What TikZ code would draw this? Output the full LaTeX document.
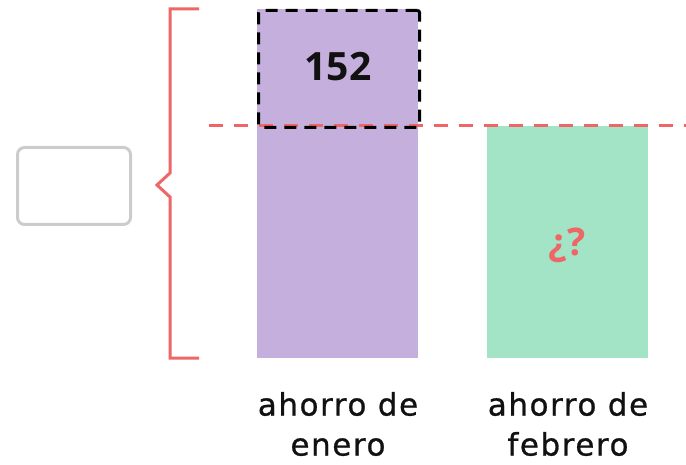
\documentclass[tikz,border=0pt]{standalone}
\usepackage{fontspec}
\setmainfont{Open Sans}
\newfontfamily\lblfont[LetterSpace=5, FakeBold=0.8]{DejaVu Sans}
\definecolor{barpurple}{HTML}{C5AFDD}
\definecolor{bargreen}{HTML}{A3E3C6}
\definecolor{accred}{HTML}{EE6666}
\definecolor{boxgray}{HTML}{CCCCCC}
\definecolor{txt}{HTML}{111111}
\begin{document}
\begin{tikzpicture}[x=1pt,y=-1pt,
  lbl/.style={font=\lblfont\fontsize{31}{40}\selectfont, align=center, text=txt},
  refline/.style={accred, line width=3pt, dash pattern=on 14pt off 11pt},
  boxdash/.style={black, line width=3pt, dash pattern=on 12pt off 8pt, rounded corners=2pt},
  bracestyle/.style={accred, line width=3pt}]
\useasboundingbox (0,0) rectangle (686,465);
% bars
\node[fill=barpurple, minimum width=161pt, minimum height=349pt, inner sep=0, anchor=north west] (jan) at (257,9) {};
\node[fill=bargreen, minimum width=161pt, minimum height=232pt, inner sep=0, anchor=north west] (feb) at (487,126) {};
% reference dashed line
\coordinate (rl) at (209,126);
\coordinate (rr) at (686,126);
\draw[refline] (rl) -- (rr);
% dashed box
\node[boxdash, draw, minimum width=161pt, minimum height=117pt, inner sep=0, anchor=north west] (diff) at (257,9) {};
\node[font=\bfseries\fontsize{39}{39}\selectfont, text=txt] (num) at (338,67) {152};
% question
\node[font=\bfseries\fontsize{38}{38}\selectfont, text=accred] (q) at (567,245) {¿?};
% brace
\draw[bracestyle, line join=miter] (199,9) -- (170,9) -- (170,173) -- (157,185) -- (170,197) -- (170,358) -- (199,358);
% empty box
\node[draw=boxgray, line width=3pt, rounded corners=7pt, minimum width=113pt, minimum height=77pt, inner sep=0, anchor=north west] (ans) at (16,146) {};
% labels
\node[lbl] (l1) at (338,424) {ahorro de\\enero};
\node[lbl] (l2) at (568,424) {ahorro de\\febrero};
\end{tikzpicture}
\end{document}
